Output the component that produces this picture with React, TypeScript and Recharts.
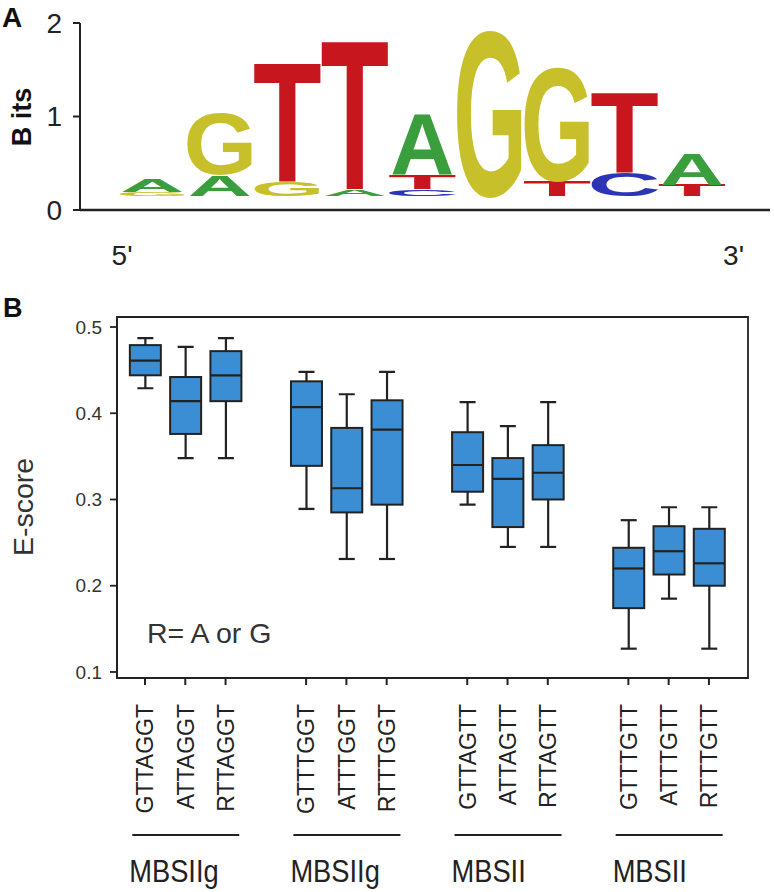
import { Bar, BarChart, ReferenceArea, XAxis, YAxis } from "recharts";

// ---- Panel A: sequence logo ----
const LOGO_POSITIONS = [1, 2, 3, 4, 5, 6, 7, 8, 9];
/** Letters sit on a small offset above the axis in the original logo. */
const LOGO_BASE = 0.15;
/** Letters per position, bottom → top. */
const LOGO_LETTERS = [
  ["G", "A"],
  ["A", "G"],
  ["G", "T"],
  ["A", "T"],
  ["C", "T", "A"],
  ["G"],
  ["T", "G"],
  ["C", "T"],
  ["T", "A"],
];
/** Bits per letter, same order as LOGO_LETTERS. */
const LOGO_BITS = [
  [0.04, 0.14],
  [0.23, 0.67],
  [0.15, 1.31],
  [0.07, 1.64],
  [0.07, 0.16, 0.66],
  [1.8],
  [0.17, 1.23],
  [0.26, 0.88],
  [0.12, 0.34],
];
const LOGO_Y_TICKS = [0, 1, 2];
const END_TICKS = [0.556, 9.62];
const END_LABELS = ["5'", "3'"];

// ---- Panel B: E-score box plots ----
const KMERS = [
  "GTTAGGT", "ATTAGGT", "RTTAGGT",
  "GTTTGGT", "ATTTGGT", "RTTTGGT",
  "GTTAGTT", "ATTAGTT", "RTTAGTT",
  "GTTTGTT", "ATTTGTT", "RTTTGTT",
];
const BOX_SLOTS = [1, 2, 3, 5, 6, 7, 9, 10, 11, 13, 14, 15];
const GROUP_LABELS = ["MBSIIg", "MBSIIg", "MBSII", "MBSII"];
const WHISKER_LOW = [0.429, 0.348, 0.348, 0.289, 0.231, 0.231, 0.294, 0.245, 0.245, 0.127, 0.185, 0.127];
const Q1 = [0.444, 0.376, 0.414, 0.339, 0.285, 0.294, 0.309, 0.268, 0.3, 0.174, 0.213, 0.2];
const MEDIAN = [0.461, 0.414, 0.444, 0.407, 0.313, 0.381, 0.34, 0.324, 0.331, 0.22, 0.24, 0.226];
const Q3 = [0.479, 0.442, 0.472, 0.437, 0.383, 0.415, 0.378, 0.348, 0.363, 0.244, 0.269, 0.266];
const WHISKER_HIGH = [0.487, 0.477, 0.487, 0.448, 0.422, 0.448, 0.413, 0.385, 0.413, 0.276, 0.291, 0.291];
const E_TICKS = [0.1, 0.2, 0.3, 0.4, 0.5];

const FONT = "'Liberation Sans', Arial, Helvetica, sans-serif";
const INK = "#222";
const BOX_FILL = "#3b8ed4";

const LETTER_COLORS: Record<string, string> = {
  A: "#3a9e3c",
  C: "#2b35b5",
  G: "#c8c02a",
  T: "#c8161e",
};
/** Horizontal ink extent of each bold glyph, in em. */
const GLYPH_INK: Record<string, [number, number]> = {
  A: [0.0, 0.722],
  C: [0.05, 0.68],
  G: [0.045, 0.72],
  T: [0.02, 0.59],
};
const CAP_HEIGHT = 0.716;

const logoRows = LOGO_POSITIONS.map((pos, i) => {
  const row: Record<string, number | string> = { pos, base: LOGO_BASE };
  LOGO_LETTERS[i].forEach((letter, k) => {
    row[`h${k}`] = LOGO_BITS[i][k];
    row[`l${k}`] = letter;
  });
  return row;
});

const boxRows = KMERS.map((kmer, i) => ({
  kmer,
  slot: BOX_SLOTS[i],
  lo: WHISKER_LOW[i],
  q1: Q1[i],
  median: MEDIAN[i],
  q3: Q3[i],
  hi: WHISKER_HIGH[i],
}));

/** Stretches one glyph to fill the stacked segment it belongs to. */
function letterShape(layer: number) {
  return (props: any) => {
    const { x, y, width, height, payload } = props;
    const letter = payload?.[`l${layer}`];
    if (!letter || !height || height <= 0) return <g />;
    const [i0, i1] = GLYPH_INK[letter];
    const sx = width / ((i1 - i0) * 100);
    const sy = height / (CAP_HEIGHT * 100);
    return (
      <text
        x={0}
        y={0}
        fontSize={100}
        fontWeight="bold"
        fontFamily={FONT}
        fill={LETTER_COLORS[letter]}
        transform={`translate(${x - i0 * 100 * sx} ${y + height}) scale(${sx} ${sy})`}
      >
        {letter}
      </text>
    );
  };
}

/** Range bar [lo, hi] → whiskers, box and median, interpolated in the bar's own pixels. */
function BoxShape(props: any) {
  const { x, y, width, height, payload } = props;
  if (!payload) return <g />;
  const { lo, q1, median, q3, hi } = payload;
  const ppu = height / (hi - lo);
  const py = (v: number) => y + (hi - v) * ppu;
  const cx = x + width / 2;
  const cap = 8;
  return (
    <g stroke={INK}>
      <line x1={cx} x2={cx} y1={py(hi)} y2={py(lo)} strokeWidth={2.2} />
      <line x1={cx - cap} x2={cx + cap} y1={py(hi)} y2={py(hi)} strokeWidth={2.2} />
      <line x1={cx - cap} x2={cx + cap} y1={py(lo)} y2={py(lo)} strokeWidth={2.2} />
      <rect
        x={x}
        y={py(q3)}
        width={width}
        height={py(q1) - py(q3)}
        fill={BOX_FILL}
        strokeWidth={2}
      />
      <line x1={x} x2={x + width} y1={py(median)} y2={py(median)} strokeWidth={2.2} />
    </g>
  );
}

function KmerTick(props: any) {
  const { x, y, payload } = props;
  const i = BOX_SLOTS.indexOf(payload?.value);
  if (i < 0) return <g />;
  const isMiddle = i % 3 === 1;
  return (
    <g fill={INK}>
      <text
        transform={`translate(${x + 8.3} ${y + 19}) rotate(-90)`}
        textAnchor="end"
        fontSize={23}
        fontFamily={FONT}
      >
        {KMERS[i]}
      </text>
      {isMiddle && (
        <>
          <line x1={x - 53} x2={x + 54} y1={y + 150} y2={y + 150} stroke={INK} strokeWidth={2} />
          <text
            transform={`translate(${x - 56} ${y + 197}) scale(0.88 1)`}
            fontSize={31}
            fontFamily={FONT}
          >
            {GROUP_LABELS[Math.floor(i / 3)]}
          </text>
        </>
      )}
    </g>
  );
}

const LOGO_X_DOMAIN: [number, number] = [-0.067, 10.16];
const BOX_X_DOMAIN: [number, number] = [0.305, 15.97];
const BOX_Y_DOMAIN: [number, number] = [0.093, 0.5116];

export default function App() {
  return (
    <div style={{ position: "relative", width: 774, height: 892, fontFamily: FONT, background: "#fff" }}>
      <style>{"body{margin:0;background:#fff}"}</style>

      <div style={{ position: "absolute", left: 0, top: 0 }}>
        <BarChart
          width={774}
          height={280}
          data={logoRows}
          margin={{ top: 23, right: 4, bottom: 0, left: 0 }}
          barSize={64}
        >
          <XAxis
            dataKey="pos"
            type="number"
            domain={LOGO_X_DOMAIN}
            ticks={END_TICKS}
            tickFormatter={(v) => END_LABELS[END_TICKS.indexOf(v)] ?? ""}
            height={70}
            tickLine={false}
            tickSize={0}
            tickMargin={35}
            axisLine={{ stroke: INK, strokeWidth: 2.5 }}
            tick={{ fill: INK, fontSize: 28, fontFamily: FONT }}
            interval={0}
          />
          <YAxis
            type="number"
            domain={[0, 2]}
            ticks={LOGO_Y_TICKS}
            width={80}
            tickSize={7}
            tickMargin={11}
            axisLine={{ stroke: INK, strokeWidth: 2 }}
            tickLine={{ stroke: INK, strokeWidth: 2 }}
            tick={{ fill: INK, fontSize: 28, fontFamily: FONT }}
            interval={0}
          />
          <Bar dataKey="base" stackId="logo" fill="none" isAnimationActive={false} />
          <Bar dataKey="h0" stackId="logo" shape={letterShape(0)} isAnimationActive={false} />
          <Bar dataKey="h1" stackId="logo" shape={letterShape(1)} isAnimationActive={false} />
          <Bar dataKey="h2" stackId="logo" shape={letterShape(2)} isAnimationActive={false} />
        </BarChart>
      </div>

      <div style={{ position: "absolute", left: 0, top: 280 }}>
        <BarChart
          width={774}
          height={612}
          data={boxRows}
          margin={{ top: 37, right: 26, bottom: 0, left: 0 }}
          barSize={31}
        >
          <XAxis
            dataKey="slot"
            type="number"
            domain={BOX_X_DOMAIN}
            ticks={BOX_SLOTS}
            height={214}
            tickSize={7}
            tickMargin={0}
            axisLine={{ stroke: INK, strokeWidth: 1.8 }}
            tickLine={{ stroke: INK, strokeWidth: 2 }}
            tick={<KmerTick />}
            interval={0}
          />
          <YAxis
            type="number"
            domain={BOX_Y_DOMAIN}
            ticks={E_TICKS}
            width={117}
            tickSize={7}
            tickMargin={8}
            allowDataOverflow
            axisLine={{ stroke: INK, strokeWidth: 1.8 }}
            tickLine={{ stroke: INK, strokeWidth: 1.8 }}
            tick={{ fill: "#333", fontSize: 19, fontFamily: FONT }}
            tickFormatter={(v) => Number(v).toFixed(1)}
            interval={0}
          />
          <ReferenceArea
            x1={BOX_X_DOMAIN[0]}
            x2={BOX_X_DOMAIN[1]}
            y1={BOX_Y_DOMAIN[0]}
            y2={BOX_Y_DOMAIN[1]}
            fill="none"
            fillOpacity={0}
            stroke={INK}
            strokeWidth={1.8}
            ifOverflow="visible"
          />
          <Bar
            dataKey={(d: any) => [d.lo, d.hi]}
            shape={<BoxShape />}
            isAnimationActive={false}
          />
        </BarChart>
      </div>

      <svg
        width={774}
        height={892}
        style={{ position: "absolute", left: 0, top: 0, pointerEvents: "none" }}
      >
        <text x={2} y={27} fontSize={28} fontWeight="bold" fill="#111" fontFamily={FONT}>A</text>
        <text
          transform="translate(31 117) rotate(-90)"
          textAnchor="middle"
          fontSize={27}
          fontWeight="bold"
          fill="#111"
          fontFamily={FONT}
        >
          B its
        </text>
        <text x={3} y={317} fontSize={27} fontWeight="bold" fill="#111" fontFamily={FONT}>B</text>
        <text
          transform="translate(33.2 507) rotate(-90)"
          textAnchor="middle"
          fontSize={28.5}
          fill="#333"
          fontFamily={FONT}
        >
          E-score
        </text>
        <text x={147} y={643} fontSize={28.5} fill="#333" fontFamily={FONT}>
          R= A or G
        </text>
      </svg>
    </div>
  );
}
